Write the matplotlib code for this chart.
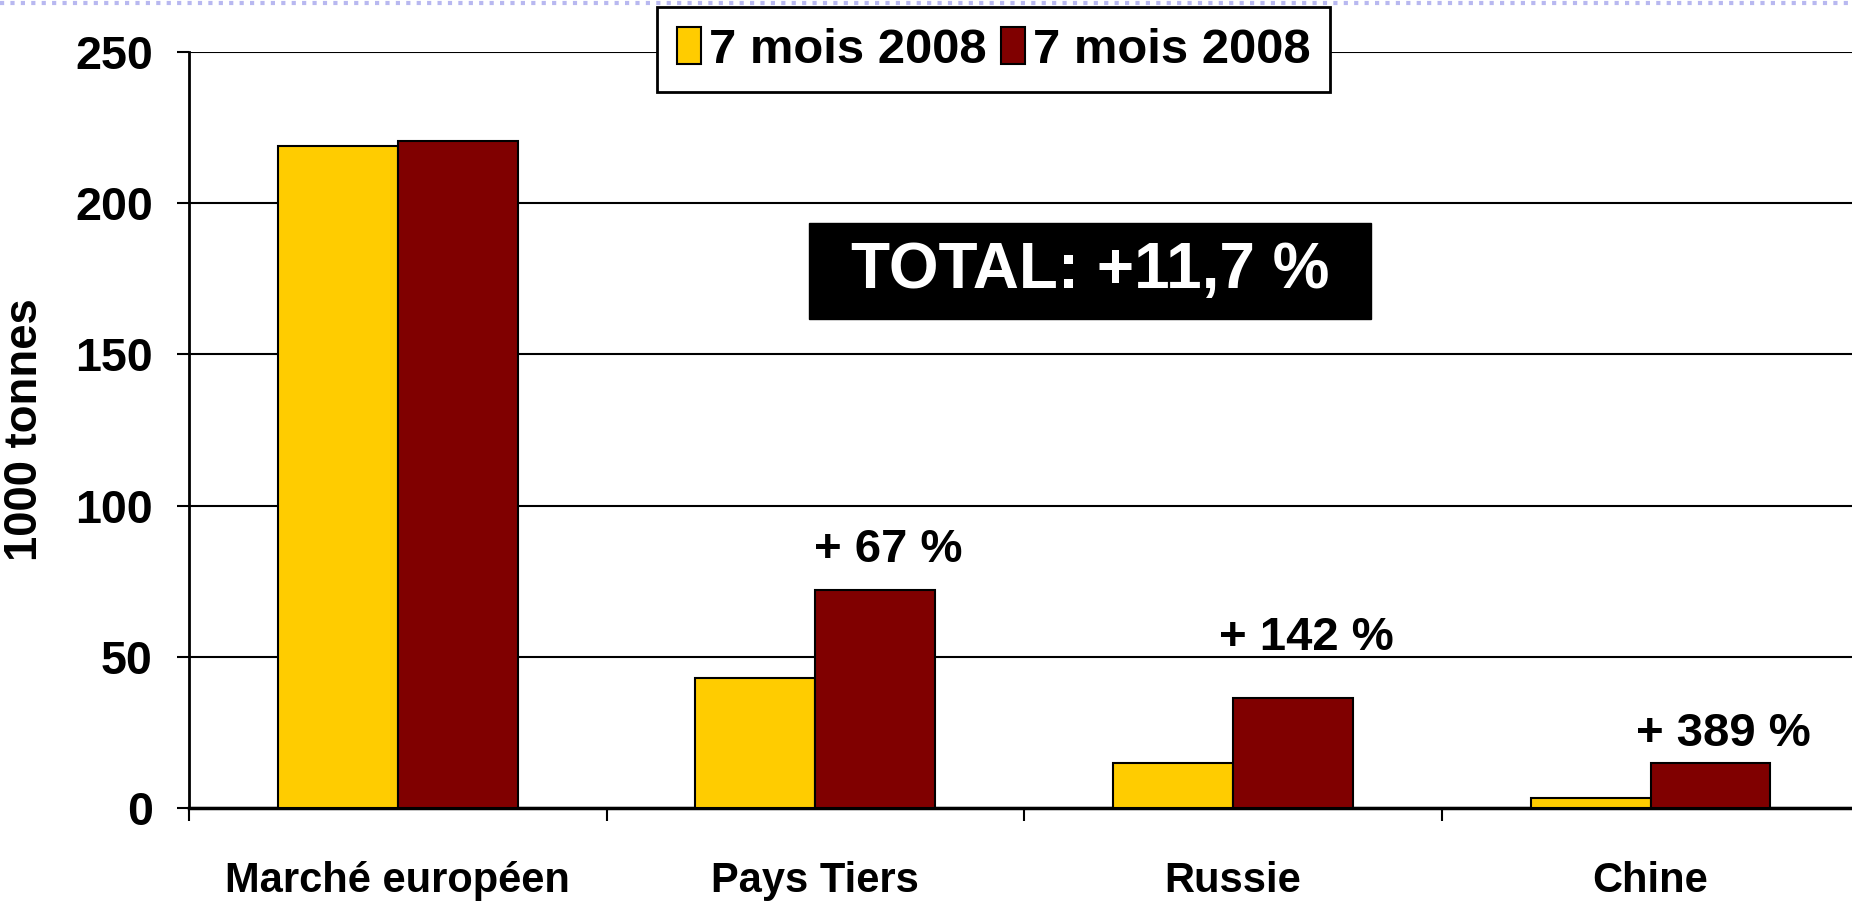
import matplotlib.pyplot as plt
from matplotlib import font_manager
from matplotlib.lines import Line2D
from matplotlib.patches import Patch, Rectangle

plt.rcParams['font.family'] = ['Liberation Sans', 'DejaVu Sans']
plt.rcParams['font.weight'] = 'bold'

# Data
categories = ['Marché européen', 'Pays Tiers', 'Russie', 'Chine']
series_a = [219, 43, 15, 3.2]     # 7 mois 2008 (yellow)
series_b = [220.5, 72, 36.5, 15]  # 7 mois 2008 (dark red)
series_names = ['7 mois 2008', '7 mois 2008']
growth_labels = ['', '+ 67 %', '+ 142 %', '+ 389 %']
total_label = 'TOTAL: +11,7 %'
yticks = [0, 50, 100, 150, 200, 250]

yellow = '#FFCC00'
darkred = '#800000'

# the axis numbers, y label and legend use a narrow face in the original
names = {f.name for f in font_manager.fontManager.ttflist}
if 'Liberation Sans Narrow' in names:
    narrow, nscale = 'Liberation Sans Narrow', 1.0
else:
    narrow, nscale = 'Liberation Sans', 0.82

fig = plt.figure(figsize=(18.52, 9.01), dpi=100)
ax = fig.add_axes([0.102, 0.1032, 0.902, 0.8391])

x = list(range(len(categories)))
w = 0.287
ax.bar([i - w for i in x], series_a, width=w, align='edge', color=yellow,
       edgecolor='black', linewidth=1.5, zorder=3)
ax.bar(x, series_b, width=w, align='edge', color=darkred,
       edgecolor='black', linewidth=1.5, zorder=3)

ax.set_xlim(-0.5, 3.5)
ax.set_ylim(0, 250)
ax.set_yticks(yticks)
ax.set_yticklabels([str(t) for t in yticks], fontsize=41 * nscale,
                   fontweight='bold', family=narrow)
ax.yaxis.grid(True, color='black', linewidth=1.5, zorder=0)
ax.tick_params(axis='y', direction='out', length=9, width=1.5, pad=17)

# category labels at centers, tick marks at boundaries
ax.set_xticks(x)
ax.set_xticklabels(categories, fontsize=30, fontweight='bold')
ax.tick_params(axis='x', length=0, pad=38)
ax.set_xticks([-0.5, 0.5, 1.5, 2.5], minor=True)
ax.tick_params(axis='x', which='minor', direction='out', length=9, width=1.5)

for side in ['top', 'right']:
    ax.spines[side].set_visible(False)
ax.spines['left'].set_linewidth(2)
ax.spines['bottom'].set_linewidth(2.5)

ax.set_ylabel('1000 tonnes', fontsize=40 * nscale, fontweight='bold',
              family=narrow)
ax.yaxis.set_label_coords(-0.085, 0.5)

# growth annotations above the dark red bars
label_offsets = [0, 13.2, 19.8, 9.6]
for i, lab in enumerate(growth_labels):
    if lab:
        ax.text(i + 0.175, series_b[i] + label_offsets[i], lab, ha='center',
                va='center', fontsize=34, fontweight='bold', zorder=5)

# total box
ax.add_patch(Rectangle((0.986, 161.7), 2.33 - 0.986, 193.4 - 161.7,
                       facecolor='black', edgecolor='black', zorder=6))
ax.text(1.658, 177.5, total_label, ha='center', va='center', color='white',
        fontsize=46, fontweight='bold', zorder=7)

handles = [Patch(facecolor=yellow, edgecolor='black', linewidth=1.5),
           Patch(facecolor=darkred, edgecolor='black', linewidth=1.5)]
leg = fig.legend(handles, series_names, loc='upper center',
                 bbox_to_anchor=(0.5365, 0.992), ncol=2,
                 prop={'weight': 'bold', 'size': 43 * nscale, 'family': narrow},
                 handlelength=0.5, handleheight=0.8, handletextpad=0.15,
                 columnspacing=0.3, borderpad=0.4, borderaxespad=0,
                 fancybox=False, framealpha=1)
leg.get_frame().set_edgecolor('black')
leg.get_frame().set_linewidth(2)
leg.set_zorder(10)

# faint dotted band along the top edge (slide remnant)
fig.add_artist(Line2D([0, 1], [0.9965, 0.9965], transform=fig.transFigure,
                      color='#b8b8f0', linewidth=3, linestyle=(0, (1, 1.5))))

fig.savefig('out.png', dpi=100)
